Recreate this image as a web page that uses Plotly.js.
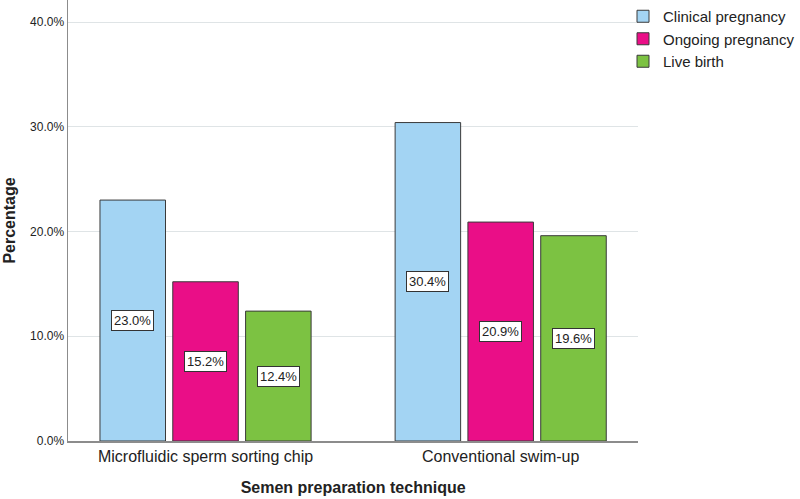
<!DOCTYPE html>
<html>
<head>
<meta charset="utf-8">
<script src="https://cdn.plot.ly/plotly-3.0.1.min.js"></script>
<style>
  html, body { margin: 0; padding: 0; background: #fff; }
  #chart { width: 800px; height: 499px; }
</style>
</head>
<body>
<div id="chart"></div>
<script>
// semen preparation groups and outcome rates (%)
var techniques = ['Microfluidic sperm sorting chip', 'Conventional swim-up']
var outcomes = ['Clinical pregnancy', 'Ongoing pregnancy', 'Live birth']
var clinical = [23.0, 30.4]
var ongoing = [15.2, 20.9]
var liveBirth = [12.4, 19.6]

var colours = ['#a3d4f3', '#ea0e87', '#7cc242']
var series = [clinical, ongoing, liveBirth]

var data = []
var annotations = []
var pitch = 73  // px between bar centres inside a group

for (let s = 0; s < series.length; s++) {
	data.push({
		type: 'bar',
		name: outcomes[s],
		x: techniques,
		y: series[s],
		marker: {color: colours[s], line: {color: '#3a3a3a', width: 1}},
		hoverinfo: 'none'
	})
	for (let k = 0; k < techniques.length; k++) {
		annotations.push({
			x: techniques[k],
			y: series[s][k] / 2,
			xref: 'x', yref: 'y',
			xshift: (s - 1) * pitch,
			text: series[s][k].toFixed(1) + '%',
			showarrow: false,
			font: {family: 'Liberation Sans, Arial, sans-serif', size: 13, color: '#222'},
			bgcolor: '#ffffff',
			bordercolor: '#333333',
			borderwidth: 1,
			borderpad: 2
		})
	}
}

// plot spans 68..639 px of a 732 px wide paper
var plotFrac = 571 / 732

var layout = {
	width: 800,
	height: 499,
	margin: {l: 68, r: 0, t: 0, b: 58},
	paper_bgcolor: '#ffffff',
	plot_bgcolor: '#ffffff',
	font: {family: 'Liberation Sans, Arial, sans-serif', color: '#222'},
	barmode: 'group',
	bargap: 0.26,
	bargroupgap: 0.1,
	showlegend: true,
	legend: {
		x: (624 - 68) / 732, y: 1.0, xanchor: 'left', yanchor: 'top',
		font: {size: 15, color: '#222'},
		tracegroupgap: 0,
		itemwidth: 30,
		bgcolor: 'rgba(0,0,0,0)'
	},
	xaxis: {
		domain: [0, plotFrac],
		range: [-0.466, 1.466],
		showline: true, linecolor: '#8c8c8c', linewidth: 1.5,
		ticks: '',
		tickfont: {size: 16, color: '#222'},
		title: {text: 'Semen preparation technique', font: {size: 16, color: '#222', weight: 'bold'}, standoff: 18},
		automargin: false
	},
	yaxis: {
		range: [0, 42.1],
		tickvals: [0, 10, 20, 30, 40],
		ticktext: ['0.0%', '10.0%', '20.0%', '30.0%', '40.0%'],
		showline: true, linecolor: '#8c8c8c', linewidth: 1.5,
		showgrid: true, gridcolor: '#dfe4e6', gridwidth: 1,
		zeroline: false,
		ticks: '',
		tickfont: {size: 12, color: '#222'},
		title: {text: 'Percentage', font: {size: 16, color: '#222', weight: 'bold'}, standoff: 10},
		automargin: false
	},
	annotations: annotations
}

Plotly.newPlot('chart', data, layout, {displayModeBar: false, staticPlot: true})
</script>
</body>
</html>
